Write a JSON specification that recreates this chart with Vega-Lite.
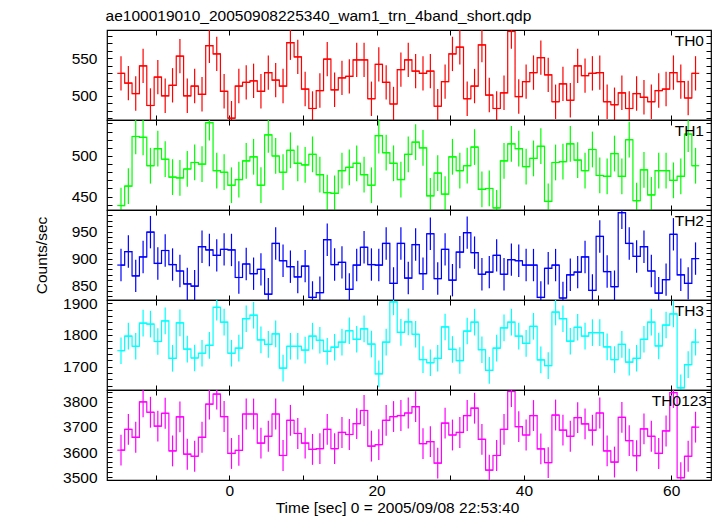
{
"$schema": "https://vega.github.io/schema/vega-lite/v6.json",
"padding": {"left": 33, "top": 8, "right": 6, "bottom": 5},
"background": "white",
"bounds": "flush",
"title": {"text": "ae100019010_20050908225340_wam1_trn_4band_short.qdp", "anchor": "start", "fontSize": 15.5, "fontWeight": "normal", "font": "Liberation Sans", "color": "#000", "dx": 72, "offset": 4},
"config": {
 "font": "Liberation Sans",
 "view": {"stroke": "#000000", "strokeWidth": 1.2},
 "axis": {"grid": false, "domain": false, "tickSize": -5, "tickColor": "#000", "tickWidth": 1, "labelFont": "Liberation Sans", "labelFontSize": 15.5, "labelColor": "#000", "labelPadding": 15, "labelFlush": false, "labelOverlap": false, "titleFont": "Liberation Sans", "titleFontSize": 15.5, "titleFontWeight": "normal", "titleColor": "#000"},
 "text": {"font": "Liberation Sans", "fontSize": 15.5, "color": "#000"}
},
"spacing": 0,
"datasets": {
"th0": [{"t":-14.7,"v":530,"e":23},{"t":-13.7,"v":517,"e":23},{"t":-12.7,"v":503,"e":23},{"t":-11.7,"v":540,"e":23},{"t":-10.7,"v":487,"e":23},{"t":-9.7,"v":525,"e":23},{"t":-8.7,"v":500,"e":23},{"t":-7.7,"v":514,"e":23},{"t":-6.7,"v":553,"e":23},{"t":-5.7,"v":500,"e":23},{"t":-4.7,"v":513,"e":23},{"t":-3.7,"v":502,"e":23},{"t":-2.7,"v":567,"e":23},{"t":-1.7,"v":556,"e":23},{"t":-0.7,"v":506,"e":23},{"t":0.3,"v":470,"e":23},{"t":1.3,"v":513,"e":23},{"t":2.3,"v":518,"e":23},{"t":3.3,"v":520,"e":23},{"t":4.3,"v":506,"e":23},{"t":5.3,"v":531,"e":23},{"t":6.3,"v":521,"e":23},{"t":7.3,"v":513,"e":23},{"t":8.3,"v":571,"e":23},{"t":9.3,"v":552,"e":23},{"t":10.3,"v":509,"e":23},{"t":11.3,"v":483,"e":23},{"t":12.3,"v":507,"e":23},{"t":13.3,"v":549,"e":23},{"t":14.3,"v":508,"e":23},{"t":15.3,"v":524,"e":23},{"t":16.3,"v":526,"e":23},{"t":17.3,"v":548,"e":23},{"t":18.3,"v":548,"e":23},{"t":19.3,"v":496,"e":23},{"t":20.3,"v":542,"e":23},{"t":21.3,"v":518,"e":23},{"t":22.3,"v":489,"e":23},{"t":23.3,"v":535,"e":23},{"t":24.3,"v":548,"e":23},{"t":25.3,"v":533,"e":23},{"t":26.3,"v":530,"e":23},{"t":27.3,"v":533,"e":23},{"t":28.3,"v":486,"e":23},{"t":29.3,"v":519,"e":23},{"t":30.3,"v":556,"e":23},{"t":31.3,"v":565,"e":23},{"t":32.3,"v":496,"e":23},{"t":33.3,"v":513,"e":23},{"t":34.3,"v":568,"e":23},{"t":35.3,"v":501,"e":23},{"t":36.3,"v":483,"e":23},{"t":37.3,"v":504,"e":23},{"t":38.3,"v":586,"e":23},{"t":39.3,"v":499,"e":23},{"t":40.3,"v":519,"e":23},{"t":41.3,"v":531,"e":23},{"t":42.3,"v":551,"e":23},{"t":43.3,"v":528,"e":23},{"t":44.3,"v":492,"e":23},{"t":45.3,"v":516,"e":23},{"t":46.3,"v":494,"e":23},{"t":47.3,"v":540,"e":23},{"t":48.3,"v":527,"e":23},{"t":49.3,"v":530,"e":23},{"t":50.3,"v":531,"e":23},{"t":51.3,"v":492,"e":23},{"t":52.3,"v":488,"e":23},{"t":53.3,"v":504,"e":23},{"t":54.3,"v":483,"e":23},{"t":55.3,"v":503,"e":23},{"t":56.3,"v":498,"e":23},{"t":57.3,"v":492,"e":23},{"t":58.3,"v":507,"e":23},{"t":59.3,"v":509,"e":23},{"t":60.3,"v":531,"e":23},{"t":61.3,"v":519,"e":23},{"t":62.3,"v":497,"e":23},{"t":63.3,"v":530,"e":23}],
"th1": [{"t":-14.7,"v":439,"e":22},{"t":-13.7,"v":463,"e":22},{"t":-12.7,"v":524,"e":22},{"t":-11.7,"v":523,"e":22},{"t":-10.7,"v":488,"e":22},{"t":-9.7,"v":509,"e":22},{"t":-8.7,"v":496,"e":22},{"t":-7.7,"v":474,"e":22},{"t":-6.7,"v":473,"e":22},{"t":-5.7,"v":484,"e":22},{"t":-4.7,"v":492,"e":22},{"t":-3.7,"v":490,"e":22},{"t":-2.7,"v":541,"e":22},{"t":-1.7,"v":482,"e":22},{"t":-0.7,"v":480,"e":22},{"t":0.3,"v":464,"e":22},{"t":1.3,"v":471,"e":22},{"t":2.3,"v":494,"e":22},{"t":3.3,"v":499,"e":22},{"t":4.3,"v":464,"e":22},{"t":5.3,"v":526,"e":22},{"t":6.3,"v":500,"e":22},{"t":7.3,"v":480,"e":22},{"t":8.3,"v":507,"e":22},{"t":9.3,"v":491,"e":22},{"t":10.3,"v":489,"e":22},{"t":11.3,"v":502,"e":22},{"t":12.3,"v":477,"e":22},{"t":13.3,"v":455,"e":22},{"t":14.3,"v":454,"e":22},{"t":15.3,"v":482,"e":22},{"t":16.3,"v":486,"e":22},{"t":17.3,"v":491,"e":22},{"t":18.3,"v":477,"e":22},{"t":19.3,"v":464,"e":22},{"t":20.3,"v":525,"e":22},{"t":21.3,"v":504,"e":22},{"t":22.3,"v":491,"e":22},{"t":23.3,"v":471,"e":22},{"t":24.3,"v":502,"e":22},{"t":25.3,"v":517,"e":22},{"t":26.3,"v":510,"e":22},{"t":27.3,"v":451,"e":22},{"t":28.3,"v":479,"e":22},{"t":29.3,"v":453,"e":22},{"t":30.3,"v":499,"e":22},{"t":31.3,"v":482,"e":22},{"t":32.3,"v":488,"e":22},{"t":33.3,"v":511,"e":22},{"t":34.3,"v":459,"e":22},{"t":35.3,"v":460,"e":22},{"t":36.3,"v":436,"e":22},{"t":37.3,"v":494,"e":22},{"t":38.3,"v":515,"e":22},{"t":39.3,"v":509,"e":22},{"t":40.3,"v":487,"e":22},{"t":41.3,"v":497,"e":22},{"t":42.3,"v":512,"e":22},{"t":43.3,"v":444,"e":22},{"t":44.3,"v":492,"e":22},{"t":45.3,"v":493,"e":22},{"t":46.3,"v":515,"e":22},{"t":47.3,"v":495,"e":22},{"t":48.3,"v":482,"e":22},{"t":49.3,"v":508,"e":22},{"t":50.3,"v":476,"e":22},{"t":51.3,"v":475,"e":22},{"t":52.3,"v":503,"e":22},{"t":53.3,"v":475,"e":22},{"t":54.3,"v":520,"e":22},{"t":55.3,"v":445,"e":22},{"t":56.3,"v":483,"e":22},{"t":57.3,"v":452,"e":22},{"t":58.3,"v":482,"e":22},{"t":59.3,"v":482,"e":22},{"t":60.3,"v":470,"e":22},{"t":61.3,"v":475,"e":22},{"t":62.3,"v":527,"e":22},{"t":63.3,"v":488,"e":22}],
"th2": [{"t":-14.7,"v":888,"e":30},{"t":-13.7,"v":913,"e":30},{"t":-12.7,"v":868,"e":30},{"t":-11.7,"v":903,"e":30},{"t":-10.7,"v":949,"e":30},{"t":-9.7,"v":891,"e":30},{"t":-8.7,"v":915,"e":30},{"t":-7.7,"v":889,"e":30},{"t":-6.7,"v":877,"e":30},{"t":-5.7,"v":853,"e":30},{"t":-4.7,"v":849,"e":30},{"t":-3.7,"v":922,"e":30},{"t":-2.7,"v":916,"e":30},{"t":-1.7,"v":906,"e":30},{"t":-0.7,"v":917,"e":30},{"t":0.3,"v":916,"e":30},{"t":1.3,"v":865,"e":30},{"t":2.3,"v":890,"e":30},{"t":3.3,"v":872,"e":30},{"t":4.3,"v":880,"e":30},{"t":5.3,"v":834,"e":30},{"t":6.3,"v":928,"e":30},{"t":7.3,"v":896,"e":30},{"t":8.3,"v":885,"e":30},{"t":9.3,"v":866,"e":30},{"t":10.3,"v":886,"e":30},{"t":11.3,"v":828,"e":30},{"t":12.3,"v":837,"e":30},{"t":13.3,"v":935,"e":30},{"t":14.3,"v":889,"e":30},{"t":15.3,"v":893,"e":30},{"t":16.3,"v":843,"e":30},{"t":17.3,"v":888,"e":30},{"t":18.3,"v":921,"e":30},{"t":19.3,"v":889,"e":30},{"t":20.3,"v":888,"e":30},{"t":21.3,"v":928,"e":30},{"t":22.3,"v":854,"e":30},{"t":23.3,"v":928,"e":30},{"t":24.3,"v":864,"e":30},{"t":25.3,"v":926,"e":30},{"t":26.3,"v":872,"e":30},{"t":27.3,"v":946,"e":30},{"t":28.3,"v":863,"e":30},{"t":29.3,"v":917,"e":30},{"t":30.3,"v":860,"e":30},{"t":31.3,"v":912,"e":30},{"t":32.3,"v":948,"e":30},{"t":33.3,"v":911,"e":30},{"t":34.3,"v":871,"e":30},{"t":35.3,"v":875,"e":30},{"t":36.3,"v":906,"e":30},{"t":37.3,"v":871,"e":30},{"t":38.3,"v":898,"e":30},{"t":39.3,"v":896,"e":30},{"t":40.3,"v":888,"e":30},{"t":41.3,"v":888,"e":30},{"t":42.3,"v":828,"e":30},{"t":43.3,"v":882,"e":30},{"t":44.3,"v":888,"e":30},{"t":45.3,"v":827,"e":30},{"t":46.3,"v":870,"e":30},{"t":47.3,"v":875,"e":30},{"t":48.3,"v":903,"e":30},{"t":49.3,"v":841,"e":30},{"t":50.3,"v":941,"e":30},{"t":51.3,"v":876,"e":30},{"t":52.3,"v":848,"e":30},{"t":53.3,"v":985,"e":30},{"t":54.3,"v":928,"e":30},{"t":55.3,"v":904,"e":30},{"t":56.3,"v":922,"e":30},{"t":57.3,"v":877,"e":30},{"t":58.3,"v":836,"e":30},{"t":59.3,"v":861,"e":30},{"t":60.3,"v":945,"e":30},{"t":61.3,"v":870,"e":30},{"t":62.3,"v":854,"e":30},{"t":63.3,"v":900,"e":30}],
"th3": [{"t":-14.7,"v":1750,"e":42},{"t":-13.7,"v":1796,"e":42},{"t":-12.7,"v":1764,"e":42},{"t":-11.7,"v":1837,"e":42},{"t":-10.7,"v":1834,"e":42},{"t":-9.7,"v":1779,"e":42},{"t":-8.7,"v":1844,"e":42},{"t":-7.7,"v":1726,"e":42},{"t":-6.7,"v":1838,"e":42},{"t":-5.7,"v":1755,"e":42},{"t":-4.7,"v":1727,"e":42},{"t":-3.7,"v":1742,"e":42},{"t":-2.7,"v":1767,"e":42},{"t":-1.7,"v":1887,"e":42},{"t":-0.7,"v":1840,"e":42},{"t":0.3,"v":1742,"e":42},{"t":1.3,"v":1758,"e":42},{"t":2.3,"v":1851,"e":42},{"t":3.3,"v":1862,"e":42},{"t":4.3,"v":1784,"e":42},{"t":5.3,"v":1770,"e":42},{"t":6.3,"v":1803,"e":42},{"t":7.3,"v":1695,"e":42},{"t":8.3,"v":1764,"e":42},{"t":9.3,"v":1764,"e":42},{"t":10.3,"v":1752,"e":42},{"t":11.3,"v":1796,"e":42},{"t":12.3,"v":1783,"e":42},{"t":13.3,"v":1748,"e":42},{"t":14.3,"v":1761,"e":42},{"t":15.3,"v":1777,"e":42},{"t":16.3,"v":1813,"e":42},{"t":17.3,"v":1786,"e":42},{"t":18.3,"v":1819,"e":42},{"t":19.3,"v":1771,"e":42},{"t":20.3,"v":1677,"e":42},{"t":21.3,"v":1777,"e":42},{"t":22.3,"v":1904,"e":42},{"t":23.3,"v":1808,"e":42},{"t":24.3,"v":1841,"e":42},{"t":25.3,"v":1802,"e":42},{"t":26.3,"v":1722,"e":42},{"t":27.3,"v":1712,"e":42},{"t":28.3,"v":1726,"e":42},{"t":29.3,"v":1825,"e":42},{"t":30.3,"v":1754,"e":42},{"t":31.3,"v":1719,"e":42},{"t":32.3,"v":1812,"e":42},{"t":33.3,"v":1840,"e":42},{"t":34.3,"v":1753,"e":42},{"t":35.3,"v":1688,"e":42},{"t":36.3,"v":1758,"e":42},{"t":37.3,"v":1822,"e":42},{"t":38.3,"v":1840,"e":42},{"t":39.3,"v":1796,"e":42},{"t":40.3,"v":1773,"e":42},{"t":41.3,"v":1827,"e":42},{"t":42.3,"v":1721,"e":42},{"t":43.3,"v":1703,"e":42},{"t":44.3,"v":1872,"e":42},{"t":45.3,"v":1851,"e":42},{"t":46.3,"v":1780,"e":42},{"t":47.3,"v":1824,"e":42},{"t":48.3,"v":1796,"e":42},{"t":49.3,"v":1807,"e":42},{"t":50.3,"v":1807,"e":42},{"t":51.3,"v":1762,"e":42},{"t":52.3,"v":1722,"e":42},{"t":53.3,"v":1770,"e":42},{"t":54.3,"v":1714,"e":42},{"t":55.3,"v":1726,"e":42},{"t":56.3,"v":1786,"e":42},{"t":57.3,"v":1840,"e":42},{"t":58.3,"v":1765,"e":42},{"t":59.3,"v":1831,"e":42},{"t":60.3,"v":1866,"e":42},{"t":61.3,"v":1633,"e":42},{"t":62.3,"v":1706,"e":42},{"t":63.3,"v":1777,"e":42}],
"th0123": [{"t":-14.7,"v":3608,"e":61},{"t":-13.7,"v":3690,"e":61},{"t":-12.7,"v":3659,"e":61},{"t":-11.7,"v":3799,"e":61},{"t":-10.7,"v":3758,"e":61},{"t":-9.7,"v":3703,"e":61},{"t":-8.7,"v":3754,"e":61},{"t":-7.7,"v":3605,"e":61},{"t":-6.7,"v":3740,"e":61},{"t":-5.7,"v":3592,"e":61},{"t":-4.7,"v":3584,"e":61},{"t":-3.7,"v":3659,"e":61},{"t":-2.7,"v":3790,"e":61},{"t":-1.7,"v":3830,"e":61},{"t":-0.7,"v":3741,"e":61},{"t":0.3,"v":3595,"e":61},{"t":1.3,"v":3607,"e":61},{"t":2.3,"v":3751,"e":61},{"t":3.3,"v":3751,"e":61},{"t":4.3,"v":3636,"e":61},{"t":5.3,"v":3663,"e":61},{"t":6.3,"v":3751,"e":61},{"t":7.3,"v":3587,"e":61},{"t":8.3,"v":3726,"e":61},{"t":9.3,"v":3674,"e":61},{"t":10.3,"v":3636,"e":61},{"t":11.3,"v":3611,"e":61},{"t":12.3,"v":3614,"e":61},{"t":13.3,"v":3690,"e":61},{"t":14.3,"v":3614,"e":61},{"t":15.3,"v":3678,"e":61},{"t":16.3,"v":3670,"e":61},{"t":17.3,"v":3713,"e":61},{"t":18.3,"v":3765,"e":61},{"t":19.3,"v":3624,"e":61},{"t":20.3,"v":3630,"e":61},{"t":21.3,"v":3726,"e":61},{"t":22.3,"v":3741,"e":61},{"t":23.3,"v":3745,"e":61},{"t":24.3,"v":3755,"e":61},{"t":25.3,"v":3780,"e":61},{"t":26.3,"v":3634,"e":61},{"t":27.3,"v":3642,"e":61},{"t":28.3,"v":3557,"e":61},{"t":29.3,"v":3715,"e":61},{"t":30.3,"v":3668,"e":61},{"t":31.3,"v":3678,"e":61},{"t":32.3,"v":3745,"e":61},{"t":33.3,"v":3774,"e":61},{"t":34.3,"v":3651,"e":61},{"t":35.3,"v":3529,"e":61},{"t":36.3,"v":3587,"e":61},{"t":37.3,"v":3690,"e":61},{"t":38.3,"v":3840,"e":61},{"t":39.3,"v":3701,"e":61},{"t":40.3,"v":3668,"e":61},{"t":41.3,"v":3745,"e":61},{"t":42.3,"v":3613,"e":61},{"t":43.3,"v":3559,"e":61},{"t":44.3,"v":3747,"e":61},{"t":45.3,"v":3687,"e":61},{"t":46.3,"v":3663,"e":61},{"t":47.3,"v":3737,"e":61},{"t":48.3,"v":3712,"e":61},{"t":49.3,"v":3687,"e":61},{"t":50.3,"v":3755,"e":61},{"t":51.3,"v":3605,"e":61},{"t":52.3,"v":3561,"e":61},{"t":53.3,"v":3738,"e":61},{"t":54.3,"v":3646,"e":61},{"t":55.3,"v":3586,"e":61},{"t":56.3,"v":3692,"e":61},{"t":57.3,"v":3663,"e":61},{"t":58.3,"v":3595,"e":61},{"t":59.3,"v":3684,"e":61},{"t":60.3,"v":3836,"e":61},{"t":61.3,"v":3499,"e":61},{"t":62.3,"v":3584,"e":61},{"t":63.3,"v":3699,"e":61}]
},
"vconcat": [
{
 "width": 604, "height": 90,
 "layer": [
  {"data": {"name": "th0"}, "mark": {"type": "errorbar", "color": "#ff0000", "thickness": 1.2, "clip": true},
   "encoding": {
    "x": {"field": "t", "type": "quantitative", "scale": {"domain": [-16.6, 65.4], "nice": false, "zero": false}, "axis": {"orient": "bottom", "values": [-10,0,10,20,30,40,50,60], "labels": false, "title": null}},
    "y": {"field": "v", "type": "quantitative", "scale": {"domain": [467.6, 588], "nice": false, "zero": false}, "axis": {"orient": "left", "values": [470,480,490,500,510,520,530,540,550,560,570,580], "labelExpr": "datum.value % 50 === 0 ? datum.label : ''", "title": null}},
    "yError": {"field": "e"}}},
  {"data": {"name": "th0"}, "mark": {"type": "line", "interpolate": "step", "color": "#ff0000", "strokeWidth": 1.2, "clip": true},
   "encoding": {
    "x": {"field": "t", "type": "quantitative", "scale": {"domain": [-16.6, 65.4], "nice": false, "zero": false}, "axis": {"orient": "top", "values": [-10,0,10,20,30,40,50,60], "labels": false, "title": null}},
    "y": {"field": "v", "type": "quantitative", "scale": {"domain": [467.6, 588], "nice": false, "zero": false}, "axis": {"orient": "right", "values": [470,480,490,500,510,520,530,540,550,560,570,580], "labels": false, "title": null}}}},
  {"data": {"name": "th0"}, "mark": {"type": "tick", "orient": "horizontal", "size": 7.4, "thickness": 1.2, "color": "#ff0000", "opacity": 1, "clip": true},
   "encoding": {
    "x": {"field": "t", "type": "quantitative", "axis": null},
    "y": {"field": "v", "type": "quantitative", "axis": null}}},
  {"data": {"values": [{"name": "TH0"}]}, "mark": {"type": "text", "align": "right", "baseline": "alphabetic", "dx": -7, "dy": 16},
   "encoding": {"text": {"field": "name"}, "x": {"datum": 65.4, "type": "quantitative", "axis": null}, "y": {"datum": 588, "type": "quantitative", "axis": null}}}
 ],
 "resolve": {"axis": {"x": "independent", "y": "independent"}}
},
{
 "width": 604, "height": 90,
 "layer": [
  {"data": {"name": "th1"}, "mark": {"type": "errorbar", "color": "#00ff00", "thickness": 1.2, "clip": true},
   "encoding": {
    "x": {"field": "t", "type": "quantitative", "scale": {"domain": [-16.6, 65.4], "nice": false, "zero": false}, "axis": {"orient": "bottom", "values": [-10,0,10,20,30,40,50,60], "labels": false, "title": null}},
    "y": {"field": "v", "type": "quantitative", "scale": {"domain": [433.5, 544.3], "nice": false, "zero": false}, "axis": {"orient": "left", "values": [440,450,460,470,480,490,500,510,520,530,540], "labelExpr": "datum.value % 50 === 0 ? datum.label : ''", "title": null}},
    "yError": {"field": "e"}}},
  {"data": {"name": "th1"}, "mark": {"type": "line", "interpolate": "step", "color": "#00ff00", "strokeWidth": 1.2, "clip": true},
   "encoding": {
    "x": {"field": "t", "type": "quantitative", "scale": {"domain": [-16.6, 65.4], "nice": false, "zero": false}, "axis": {"orient": "top", "values": [-10,0,10,20,30,40,50,60], "labels": false, "title": null}},
    "y": {"field": "v", "type": "quantitative", "scale": {"domain": [433.5, 544.3], "nice": false, "zero": false}, "axis": {"orient": "right", "values": [440,450,460,470,480,490,500,510,520,530,540], "labels": false, "title": null}}}},
  {"data": {"name": "th1"}, "mark": {"type": "tick", "orient": "horizontal", "size": 7.4, "thickness": 1.2, "color": "#00ff00", "opacity": 1, "clip": true},
   "encoding": {
    "x": {"field": "t", "type": "quantitative", "axis": null},
    "y": {"field": "v", "type": "quantitative", "axis": null}}},
  {"data": {"values": [{"name": "TH1"}]}, "mark": {"type": "text", "align": "right", "baseline": "alphabetic", "dx": -7, "dy": 16},
   "encoding": {"text": {"field": "name"}, "x": {"datum": 65.4, "type": "quantitative", "axis": null}, "y": {"datum": 544.3, "type": "quantitative", "axis": null}}}
 ],
 "resolve": {"axis": {"x": "independent", "y": "independent"}}
},
{
 "width": 604, "height": 90,
 "layer": [
  {"data": {"name": "th2"}, "mark": {"type": "errorbar", "color": "#0000ff", "thickness": 1.2, "clip": true},
   "encoding": {
    "x": {"field": "t", "type": "quantitative", "scale": {"domain": [-16.6, 65.4], "nice": false, "zero": false}, "axis": {"orient": "bottom", "values": [-10,0,10,20,30,40,50,60], "labels": false, "title": null}},
    "y": {"field": "v", "type": "quantitative", "scale": {"domain": [823.3, 990], "nice": false, "zero": false}, "axis": {"orient": "left", "values": [830,840,850,860,870,880,890,900,910,920,930,940,950,960,970,980], "labelExpr": "datum.value % 50 === 0 ? datum.label : ''", "title": "Counts/sec", "titlePadding": 22}},
    "yError": {"field": "e"}}},
  {"data": {"name": "th2"}, "mark": {"type": "line", "interpolate": "step", "color": "#0000ff", "strokeWidth": 1.2, "clip": true},
   "encoding": {
    "x": {"field": "t", "type": "quantitative", "scale": {"domain": [-16.6, 65.4], "nice": false, "zero": false}, "axis": {"orient": "top", "values": [-10,0,10,20,30,40,50,60], "labels": false, "title": null}},
    "y": {"field": "v", "type": "quantitative", "scale": {"domain": [823.3, 990], "nice": false, "zero": false}, "axis": {"orient": "right", "values": [830,840,850,860,870,880,890,900,910,920,930,940,950,960,970,980], "labels": false, "title": null}}}},
  {"data": {"name": "th2"}, "mark": {"type": "tick", "orient": "horizontal", "size": 7.4, "thickness": 1.2, "color": "#0000ff", "opacity": 1, "clip": true},
   "encoding": {
    "x": {"field": "t", "type": "quantitative", "axis": null},
    "y": {"field": "v", "type": "quantitative", "axis": null}}},
  {"data": {"values": [{"name": "TH2"}]}, "mark": {"type": "text", "align": "right", "baseline": "alphabetic", "dx": -7, "dy": 16},
   "encoding": {"text": {"field": "name"}, "x": {"datum": 65.4, "type": "quantitative", "axis": null}, "y": {"datum": 990, "type": "quantitative", "axis": null}}}
 ],
 "resolve": {"axis": {"x": "independent", "y": "independent"}}
},
{
 "width": 604, "height": 90,
 "layer": [
  {"data": {"name": "th3"}, "mark": {"type": "errorbar", "color": "#00ffff", "thickness": 1.2, "clip": true},
   "encoding": {
    "x": {"field": "t", "type": "quantitative", "scale": {"domain": [-16.6, 65.4], "nice": false, "zero": false}, "axis": {"orient": "bottom", "values": [-10,0,10,20,30,40,50,60], "labels": false, "title": null}},
    "y": {"field": "v", "type": "quantitative", "scale": {"domain": [1626, 1910], "nice": false, "zero": false}, "axis": {"orient": "left", "values": [1640,1660,1680,1700,1720,1740,1760,1780,1800,1820,1840,1860,1880,1900], "labelExpr": "datum.value % 100 === 0 ? datum.label : ''", "format": "d", "title": null}},
    "yError": {"field": "e"}}},
  {"data": {"name": "th3"}, "mark": {"type": "line", "interpolate": "step", "color": "#00ffff", "strokeWidth": 1.2, "clip": true},
   "encoding": {
    "x": {"field": "t", "type": "quantitative", "scale": {"domain": [-16.6, 65.4], "nice": false, "zero": false}, "axis": {"orient": "top", "values": [-10,0,10,20,30,40,50,60], "labels": false, "title": null}},
    "y": {"field": "v", "type": "quantitative", "scale": {"domain": [1626, 1910], "nice": false, "zero": false}, "axis": {"orient": "right", "values": [1640,1660,1680,1700,1720,1740,1760,1780,1800,1820,1840,1860,1880,1900], "labels": false, "title": null}}}},
  {"data": {"name": "th3"}, "mark": {"type": "tick", "orient": "horizontal", "size": 7.4, "thickness": 1.2, "color": "#00ffff", "opacity": 1, "clip": true},
   "encoding": {
    "x": {"field": "t", "type": "quantitative", "axis": null},
    "y": {"field": "v", "type": "quantitative", "axis": null}}},
  {"data": {"values": [{"name": "TH3"}]}, "mark": {"type": "text", "align": "right", "baseline": "alphabetic", "dx": -7, "dy": 16},
   "encoding": {"text": {"field": "name"}, "x": {"datum": 65.4, "type": "quantitative", "axis": null}, "y": {"datum": 1910, "type": "quantitative", "axis": null}}}
 ],
 "resolve": {"axis": {"x": "independent", "y": "independent"}}
},
{
 "width": 604, "height": 90,
 "layer": [
  {"data": {"name": "th0123"}, "mark": {"type": "errorbar", "color": "#ff00ff", "thickness": 1.2, "clip": true},
   "encoding": {
    "x": {"field": "t", "type": "quantitative", "scale": {"domain": [-16.6, 65.4], "nice": false, "zero": false}, "axis": {"orient": "bottom", "values": [-10,0,10,20,30,40,50,60], "labelExpr": "datum.value % 20 === 0 ? datum.label : ''", "labelPadding": 8, "title": "Time [sec] 0 = 2005/09/08 22:53:40", "titleX": 290, "titlePadding": 2}},
    "y": {"field": "v", "type": "quantitative", "scale": {"domain": [3490, 3846], "nice": false, "zero": false}, "axis": {"orient": "left", "values": [3500,3520,3540,3560,3580,3600,3620,3640,3660,3680,3700,3720,3740,3760,3780,3800,3820,3840], "labelExpr": "datum.value % 100 === 0 ? datum.label : ''", "format": "d", "title": null}},
    "yError": {"field": "e"}}},
  {"data": {"name": "th0123"}, "mark": {"type": "line", "interpolate": "step", "color": "#ff00ff", "strokeWidth": 1.2, "clip": true},
   "encoding": {
    "x": {"field": "t", "type": "quantitative", "scale": {"domain": [-16.6, 65.4], "nice": false, "zero": false}, "axis": {"orient": "top", "values": [-10,0,10,20,30,40,50,60], "labels": false, "title": null}},
    "y": {"field": "v", "type": "quantitative", "scale": {"domain": [3490, 3846], "nice": false, "zero": false}, "axis": {"orient": "right", "values": [3500,3520,3540,3560,3580,3600,3620,3640,3660,3680,3700,3720,3740,3760,3780,3800,3820,3840], "labels": false, "title": null}}}},
  {"data": {"name": "th0123"}, "mark": {"type": "tick", "orient": "horizontal", "size": 7.4, "thickness": 1.2, "color": "#ff00ff", "opacity": 1, "clip": true},
   "encoding": {
    "x": {"field": "t", "type": "quantitative", "axis": null},
    "y": {"field": "v", "type": "quantitative", "axis": null}}},
  {"data": {"values": [{"name": "TH0123"}]}, "mark": {"type": "text", "align": "right", "baseline": "alphabetic", "dx": -4, "dy": 16},
   "encoding": {"text": {"field": "name"}, "x": {"datum": 65.4, "type": "quantitative", "axis": null}, "y": {"datum": 3846, "type": "quantitative", "axis": null}}}
 ],
 "resolve": {"axis": {"x": "independent", "y": "independent"}}
}
]
}
